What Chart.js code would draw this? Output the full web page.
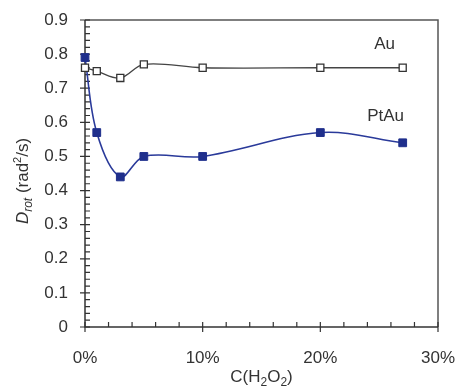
<!DOCTYPE html>
<html>
<head>
<meta charset="utf-8">
<script src="https://cdn.jsdelivr.net/npm/chart.js@4"></script>
<style>
  html, body { margin: 0; padding: 0; background: #fff; }
  #wrap { width: 457px; height: 388px; }
</style>
</head>
<body>
<div id="wrap"><canvas id="myChart" width="457" height="388"></canvas></div>
<script>
// H2O2 concentration (fraction) and rotational diffusion values
const concentrations = [0, 0.01, 0.03, 0.05, 0.10, 0.20, 0.27];
const auValues = [0.76, 0.75, 0.73, 0.77, 0.76, 0.76, 0.76];
const ptauValues = [0.79, 0.57, 0.44, 0.50, 0.50, 0.57, 0.54];
const xTicks = [0, 0.1, 0.2, 0.3];
const yTicks = [0, 0.1, 0.2, 0.3, 0.4, 0.5, 0.6, 0.7, 0.8, 0.9];

const FONT = '"Liberation Sans", Arial, sans-serif';
const TEXT = '#333';

const toPoints = (vals) => concentrations.map((c, i) => ({ x: c, y: vals[i] }));

// frame, tick marks and axis titles
const decor = {
    id: 'decor',
    beforeDatasetsDraw(chart) {
        const ctx = chart.ctx;
        const a = chart.chartArea;
        const xs = chart.scales.x;
        const ys = chart.scales.y;
        ctx.save();

        ctx.strokeStyle = '#555';
        ctx.lineWidth = 1.5;
        ctx.beginPath();
        ctx.moveTo(a.left, a.top);
        ctx.lineTo(a.right, a.top);
        ctx.lineTo(a.right, a.bottom);
        ctx.stroke();

        ctx.strokeStyle = '#333';
        ctx.beginPath();
        ctx.moveTo(a.left, a.top);
        ctx.lineTo(a.left, a.bottom);
        ctx.lineTo(a.right, a.bottom);
        ctx.stroke();

        ctx.lineWidth = 1.2;
        ctx.beginPath();
        for (let i = 0; i <= 45; i++) {
            const y = ys.getPixelForValue(i * 0.02);
            const major = i % 5 === 0;
            ctx.moveTo(major ? a.left - 5 : a.left, y);
            ctx.lineTo(a.left + 5, y);
        }
        for (let i = 0; i <= 15; i++) {
            const x = xs.getPixelForValue(i * 0.02);
            const major = i % 5 === 0;
            ctx.moveTo(x, major ? a.bottom + 5 : a.bottom);
            ctx.lineTo(x, a.bottom - 5);
        }
        ctx.stroke();

        ctx.fillStyle = TEXT;
        ctx.textBaseline = 'alphabetic';

        // series labels
        ctx.font = '17px ' + FONT;
        ctx.textAlign = 'right';
        ctx.fillText('Au', 395, 49);
        ctx.fillText('PtAu', 404, 121);

        // x title C(H2O2)
        const parts = [['C(H', 17, 0], ['2', 12, 4], ['O', 17, 0], ['2', 12, 4], [')', 17, 0]];
        let w = 0;
        parts.forEach(p => { ctx.font = p[1] + 'px ' + FONT; w += ctx.measureText(p[0]).width; });
        let x = (a.left + a.right) / 2 - w / 2;
        ctx.textAlign = 'left';
        parts.forEach(p => {
            ctx.font = p[1] + 'px ' + FONT;
            ctx.fillText(p[0], x, 382 + p[2]);
            x += ctx.measureText(p[0]).width;
        });

        // y title D_rot (rad^2/s)
        const yparts = [['D', 'italic 17px ', 0], ['rot', 'italic 12px ', 4], [' (rad', '17px ', 0], ['2', '11px ', -7], ['/s)', '17px ', 0]];
        let h = 0;
        yparts.forEach(p => { ctx.font = p[1] + FONT; h += ctx.measureText(p[0]).width; });
        ctx.translate(28, 181);
        ctx.rotate(-Math.PI / 2);
        let t = -h / 2;
        yparts.forEach(p => {
            ctx.font = p[1] + FONT;
            ctx.fillText(p[0], t, p[2]);
            t += ctx.measureText(p[0]).width;
        });
        ctx.restore();
    }
};

const ctx = document.getElementById('myChart').getContext('2d');
const myChart = new Chart(ctx, {
    type: 'line',
    data: {
        datasets: [{
            label: 'Au',
            data: toPoints(auValues),
            borderColor: '#444',
            borderWidth: 1.3,
            pointStyle: 'rect',
            pointRadius: 5,
            pointBackgroundColor: '#fff',
            pointBorderColor: '#333',
            pointBorderWidth: 1.3,
            tension: 0.35,
            clip: false
        }, {
            label: 'PtAu',
            data: toPoints(ptauValues),
            borderColor: '#2a3a9a',
            borderWidth: 1.6,
            pointStyle: 'rect',
            pointRadius: 5.5,
            pointBackgroundColor: '#1f2f8c',
            pointBorderColor: '#1f2f8c',
            pointBorderWidth: 1,
            tension: 0.35,
            clip: false
        }]
    },
    options: {
        responsive: false,
        animation: false,
        layout: { padding: { left: 0, top: 20, right: 19, bottom: 0 } },
        plugins: { legend: { display: false }, tooltip: { enabled: false } },
        scales: {
            x: {
                type: 'linear',
                min: 0,
                max: 0.3,
                afterFit: (s) => { s.height = 61; s.paddingLeft = 0; s.paddingRight = 0; },
                afterBuildTicks: (s) => { s.ticks = xTicks.map(v => ({ value: v })); },
                grid: { display: false },
                border: { display: false },
                ticks: {
                    padding: 13,
                    color: TEXT,
                    font: { family: FONT, size: 17 },
                    maxRotation: 0,
                    callback: (v) => Math.round(v * 100) + '%'
                }
            },
            y: {
                min: 0,
                max: 0.9,
                afterFit: (s) => { s.width = 85; s.paddingTop = 0; s.paddingBottom = 0; },
                afterBuildTicks: (s) => { s.ticks = yTicks.map(v => ({ value: v })); },
                grid: { display: false },
                border: { display: false },
                ticks: {
                    padding: 9,
                    color: TEXT,
                    font: { family: FONT, size: 17 },
                    callback: (v) => v === 0 ? '0' : v.toFixed(1)
                }
            }
        }
    },
    plugins: [decor]
});
</script>
</body>
</html>
